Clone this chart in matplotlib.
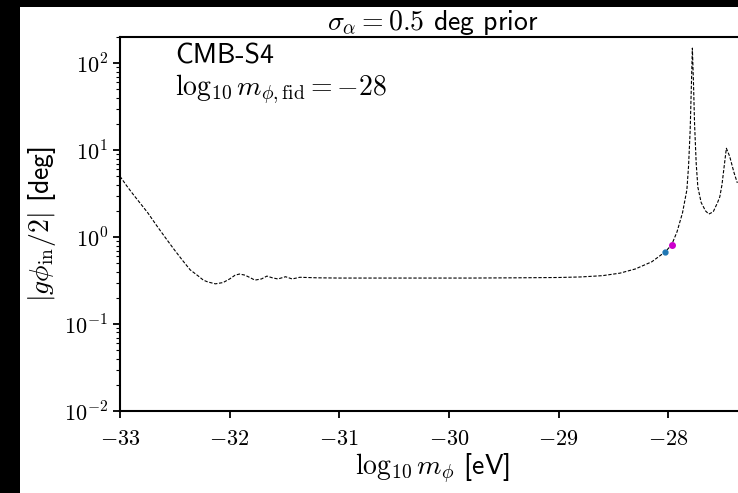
import math

import matplotlib
matplotlib.use('Agg')
import matplotlib.pyplot as plt
from matplotlib.patches import Rectangle
from matplotlib.ticker import FuncFormatter, NullFormatter

plt.rcParams['mathtext.fontset'] = 'cm'
plt.rcParams['font.family'] = ['cmss10', 'DejaVu Sans']
plt.rcParams['axes.unicode_minus'] = False

# curve: log10 m_phi, |g phi_in / 2| [deg]
log_m = [-33.0, -32.94, -32.88, -32.81, -32.745, -32.67, -32.59, -32.51,
         -32.43, -32.36, -32.29, -32.24, -32.2, -32.13,
         -32.06, -32.0, -31.95, -31.91, -31.86, -31.81, -31.77, -31.71,
         -31.66, -31.61, -31.56, -31.49, -31.43, -31.36, -31.2, -31.0,
         -30.6, -30.2, -29.8, -29.4, -29.0, -28.8, -28.6, -28.44,
         -28.3, -28.15, -28.03, -27.97, -27.92, -27.87, -27.83, -27.815,
         -27.80, -27.79, -27.78, -27.77, -27.76, -27.745, -27.73, -27.70,
         -27.66, -27.63, -27.59, -27.55, -27.53, -27.51, -27.49, -27.47,
         -27.44, -27.40, -27.37]
amp = [5.0, 3.9, 3.1, 2.4, 1.89, 1.38, 1.0, 0.73,
       0.54, 0.42, 0.36, 0.32, 0.305, 0.29,
       0.3, 0.33, 0.365, 0.376, 0.365, 0.34, 0.32, 0.33,
       0.356, 0.34, 0.33, 0.35, 0.33, 0.345, 0.34, 0.338,
       0.338, 0.338, 0.338, 0.34, 0.343, 0.348, 0.36, 0.385,
       0.43, 0.52, 0.673, 0.81, 1.15, 1.9, 3.5, 6.5,
       17.0, 50.0, 149.0, 60.0, 20.0, 7.0, 3.76, 2.5,
       2.0, 1.84, 1.95, 2.5, 2.9, 4.0, 6.5, 10.5,
       8.5, 5.5, 4.2]

fid_x = [-28.03, -27.97]
fid_y = [0.673, 0.81]
fid_colors = ['#1f77b4', '#cc00cc']

x_ticks = [-33, -32, -31, -30, -29, -28]


def main() -> None:
  fig = plt.figure(figsize=(7.38, 4.93), dpi=100, facecolor='black')
  fig.patches.append(Rectangle((20 / 738, 0), 1, 486 / 493, transform=fig.transFigure,
                               facecolor='white', edgecolor='none', zorder=-10))

  ax = fig.add_axes([120 / 738, 82 / 493, 625 / 738, 374 / 493])
  ax.plot(log_m, amp, color='k', ls='--', lw=0.8, dashes=(3, 1.5))
  ax.plot(fid_x[0], fid_y[0], 'o', color=fid_colors[0], ms=3.5)
  ax.plot(fid_x[1], fid_y[1], 'o', color=fid_colors[1], ms=4)

  ax.set_yscale('log')
  ax.set_ylim(1e-2, 2e2)
  ax.set_xlim(-33, -27.3)
  ax.set_xticks(x_ticks)
  ax.xaxis.set_major_formatter(FuncFormatter(lambda v, p: r'$%d$' % round(v)))
  ax.yaxis.set_major_formatter(FuncFormatter(lambda v, p: r'$10^{%d}$' % round(math.log10(v))))
  ax.yaxis.set_minor_formatter(NullFormatter())

  for s in ax.spines.values():
    s.set_linewidth(1.5)
  ax.tick_params(which='major', direction='out', length=5, width=1.3, labelsize=16)
  ax.tick_params(axis='x', which='major', pad=9)
  ax.tick_params(which='minor', direction='out', length=3, width=0.8)

  ax.set_title(r'$\sigma_\alpha = 0.5$ deg prior', fontsize=20, pad=3)
  ax.set_xlabel(r'$\log_{10} m_\phi$ [eV]', fontsize=20, labelpad=2)
  ax.set_ylabel(r'$|g\phi_{\rm in}/2|$ [deg]', fontsize=20, labelpad=4)

  ax.text(0.088, 0.982, 'CMB-S4', transform=ax.transAxes, fontsize=20,
          va='top', ha='left')
  ax.text(0.088, 0.905, r'$\log_{10} m_{\phi,{\rm fid}} = -28$', transform=ax.transAxes,
          fontsize=20, va='top', ha='left')

  fig.savefig('out.png', dpi=100, facecolor=fig.get_facecolor())


if __name__ == '__main__':
  main()
